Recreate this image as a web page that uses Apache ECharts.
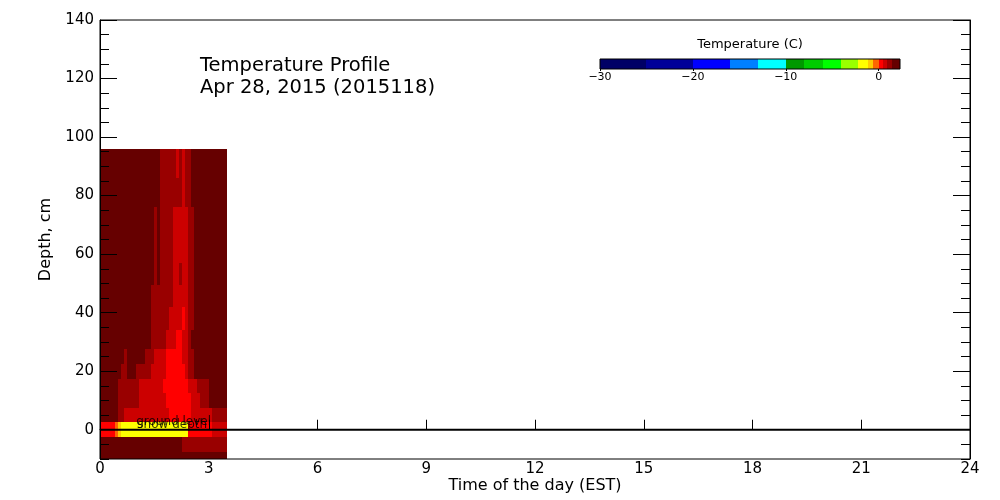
<!DOCTYPE html>
<html><head><meta charset="utf-8">
<script src="https://cdn.jsdelivr.net/npm/echarts@6/dist/echarts.min.js"></script>
<style>html,body{margin:0;padding:0;background:#fff}#chart{width:1000px;height:500px}</style>
</head><body><div id="chart"></div>
<script>
// ---------------- data ----------------
const titleLines = ['Temperature Profile', 'Apr 28, 2015 (2015118)'];
const timeTicks = [0, 3, 6, 9, 12, 15, 18, 21, 24];          // hours EST
const depthTicks = [0, 20, 40, 60, 80, 100, 120, 140];       // cm (labelled, long ticks)
const depthRange = [-10, 140];
const depthMinorStep = 5;
const sampleStepHours = 5 / 60;                               // one column every 5 minutes
// depth band edges (cm), bottom -> top
const depthEdges = [-10, -7.5, -2.5, 2.5, 7.5, 12.5, 17.5, 22.5, 27.5, 34, 42, 49.5, 57, 76, 86, 96];
// temperature levels (deg C) used in the runs below
const tempLevel = { D: 1.8, M: 1.1, C: 0.7, R: 0.2, O: -0.3, A: -0.8, Y: -1.6 };
// per depth band (bottom -> top): runs of [level, number of 5-min samples], 42 samples each
const bandRuns = [
  [['D', 42]],
  [['D', 27], ['M', 15]],
  [['R', 5], ['O', 1], ['A', 1], ['Y', 22], ['R', 8], ['C', 5]],
  [['D', 6], ['M', 2], ['C', 15], ['R', 7], ['C', 7], ['M', 5]],
  [['D', 6], ['M', 7], ['C', 9], ['R', 8], ['C', 3], ['M', 3], ['D', 6]],
  [['D', 6], ['M', 7], ['C', 8], ['R', 8], ['C', 3], ['M', 4], ['D', 6]],
  [['D', 7], ['M', 2], ['D', 3], ['M', 5], ['C', 5], ['R', 6], ['C', 1], ['M', 2], ['D', 11]],
  [['D', 8], ['M', 1], ['D', 6], ['M', 3], ['C', 4], ['R', 5], ['C', 2], ['M', 2], ['D', 11]],
  [['D', 17], ['M', 5], ['C', 3], ['R', 2], ['C', 2], ['M', 1], ['D', 12]],
  [['D', 17], ['M', 6], ['C', 4], ['R', 1], ['C', 1], ['M', 2], ['D', 11]],
  [['D', 17], ['M', 7], ['C', 5], ['M', 2], ['D', 11]],
  [['D', 18], ['M', 1], ['D', 1], ['M', 4], ['C', 2], ['M', 1], ['C', 2], ['M', 2], ['D', 11]],
  [['D', 18], ['M', 1], ['D', 1], ['M', 4], ['C', 5], ['M', 2], ['D', 11]],
  [['D', 20], ['M', 7], ['C', 1], ['M', 2], ['D', 12]],
  [['D', 20], ['M', 5], ['C', 1], ['M', 1], ['C', 1], ['M', 2], ['D', 12]]
];
// colour scale
const cbEdges = [-30, -25, -20, -16, -13, -10, -8, -6, -4, -2.2, -1.1, -0.6, 0, 0.5, 0.9, 1.4, 2.3];
const cbColors = ['#000066', '#000099', '#0000ff', '#0080ff', '#00ffff', '#009900', '#00cc00', '#00ff00',
                  '#99ff00', '#ffff00', '#ffcc00', '#ff6600', '#ff0000', '#cc0000', '#990000', '#660000'];
const cbTickLabels = [-30, -20, -10, 0];
const cbTitle = 'Temperature (C)';
// ground line and annotations
const groundLevel = 0;
const annotationTexts = ['ground level', 'snow depth'];
const annotationTimes = [1.0, 1.03];
const annotationDepths = [0, 0];

// ---------------- build ----------------
const FONT = 'DejaVu Sans';
const FW = 'normal';
const heatData = [];
bandRuns.forEach((runs, b) => {
  let col = 0;
  runs.forEach(([lv, n]) => {
    for (let k = 0; k < n; k++) {
      heatData.push([col * sampleStepHours, (col + 1) * sampleStepHours, depthEdges[b], depthEdges[b + 1], tempLevel[lv]]);
      col++;
    }
  });
});
const cbData = cbColors.map((c, i) => [cbEdges[i], cbEdges[i + 1], 0, 1, (cbEdges[i] + cbEdges[i + 1]) / 2]);
const pieces = cbColors.map((c, i) => ({ gte: cbEdges[i], lt: cbEdges[i + 1], color: c }));

function rectItem(params, api) {
  const p0 = api.coord([api.value(0), api.value(3)]);
  const p1 = api.coord([api.value(1), api.value(2)]);
  const x0 = Math.round(p0[0]), x1 = Math.round(p1[0]);
  const y0 = Math.round(p0[1]), y1 = Math.round(p1[1]);
  return { type: 'rect', shape: { x: x0, y: y0, width: x1 - x0, height: y1 - y0 },
           style: { fill: api.visual('color') } };
}

const blk = { color: '#000', width: 1 };
const minorY = (pos, labels) => ({
  type: 'value', gridIndex: 0, position: pos, min: depthRange[0], max: depthRange[1], interval: depthMinorStep, z: 10,
  axisLine: { show: true, lineStyle: blk },
  axisTick: { show: true, inside: true, length: 9, lineStyle: blk },
  axisLabel: { show: labels, color: '#000', fontFamily: FONT, fontWeight: FW, fontSize: 15, margin: 6,
               formatter: v => depthTicks.includes(v) ? String(v) : '' },
  splitLine: { show: false }
});
const majorY = (pos) => ({
  type: 'value', gridIndex: 0, position: pos, min: depthRange[0], max: depthRange[1], z: 10,
  axisLine: { show: false },
  axisTick: { show: true, inside: true, length: 17, lineStyle: blk, customValues: depthTicks },
  axisLabel: { show: false },
  splitLine: { show: false }
});
const yLeft = minorY('left', true);
yLeft.name = 'Depth, cm';
yLeft.nameLocation = 'middle';
yLeft.nameGap = 46;
yLeft.nameMoveOverlap = false;
yLeft.nameTextStyle = { color: '#000', fontFamily: FONT, fontWeight: FW, fontSize: 16 };

const option = {
  animation: false,
  backgroundColor: '#fff',
  title: [
    { text: titleLines.join('\n'), left: 200, top: 55, padding: 0,
      textStyle: { color: '#000', fontFamily: FONT, fontSize: 19.5, fontWeight: FW, lineHeight: 22 } },
    { text: cbTitle, left: 750, textAlign: 'center', top: 38, padding: 0,
      textStyle: { color: '#000', fontFamily: FONT, fontSize: 13, fontWeight: FW, lineHeight: 13 } }
  ],
  grid: [
    { left: 100, right: 30, top: 20, bottom: 41, show: true, borderColor: '#000', borderWidth: 1,
      backgroundColor: 'transparent', z: 10, outerBoundsMode: 'none', containLabel: false },
    { left: 600, width: 300, top: 59, height: 10, show: true, borderColor: '#000', borderWidth: 1,
      backgroundColor: 'transparent', z: 10, outerBoundsMode: 'none', containLabel: false }
  ],
  xAxis: [
    { type: 'value', gridIndex: 0, min: timeTicks[0], max: timeTicks[timeTicks.length - 1], interval: 3, z: 10,
      axisLine: { show: true, lineStyle: blk },
      axisTick: { show: true, inside: true, length: 10, lineStyle: blk },
      axisLabel: { color: '#000', fontFamily: FONT, fontWeight: FW, fontSize: 15, margin: 3 },
      splitLine: { show: false },
      name: 'Time of the day (EST)', nameLocation: 'middle', nameGap: 19, nameMoveOverlap: false,
      nameTextStyle: { color: '#000', fontFamily: FONT, fontWeight: FW, fontSize: 16, verticalAlign: 'top' } },
    { type: 'value', gridIndex: 1, min: cbEdges[0], max: cbEdges[cbEdges.length - 1], interval: 10, z: 10,
      axisLine: { show: false },
      axisTick: { show: true, inside: false, length: 2, lineStyle: blk },
      axisLabel: { color: '#000', fontFamily: FONT, fontWeight: FW, fontSize: 11, margin: 3, showMaxLabel: false,
                   formatter: v => cbTickLabels.includes(v) ? String(v).replace('-', '\u2212') : '' },
      splitLine: { show: false } }
  ],
  yAxis: [
    yLeft, majorY('left'), minorY('right', false), majorY('right'),
    { type: 'value', gridIndex: 1, min: 0, max: 1, show: false }
  ],
  visualMap: { type: 'piecewise', show: false, dimension: 4, seriesIndex: [0, 3], pieces: pieces },
  series: [
    { type: 'custom', xAxisIndex: 0, yAxisIndex: 0, renderItem: rectItem, data: heatData,
      encode: { x: [0, 1], y: [2, 3] }, silent: true, z: 2 },
    { type: 'line', xAxisIndex: 0, yAxisIndex: 0, symbol: 'none', silent: true, z: 5,
      data: [[timeTicks[0], groundLevel], [timeTicks[timeTicks.length - 1], groundLevel]],
      lineStyle: { color: '#000', width: 2 } },
    { type: 'scatter', xAxisIndex: 0, yAxisIndex: 0, symbolSize: 0, silent: true, z: 6,
      data: annotationTexts.map((t, i) => ({
        value: [annotationTimes[i], annotationDepths[i]],
        label: { show: true, formatter: t, position: [0, 0], align: 'left', verticalAlign: 'bottom',
                 offset: [0, i === 0 ? -2 : 1], color: '#000', fontFamily: FONT, fontWeight: FW,
                 fontSize: 12, lineHeight: 12 }
      })) },
    { type: 'custom', xAxisIndex: 1, yAxisIndex: 4, renderItem: rectItem, data: cbData,
      encode: { x: [0, 1], y: [2, 3] }, silent: true, z: 2 }
  ]
};
const chart = echarts.init(document.getElementById('chart'), null, { renderer: 'canvas' });
chart.setOption(option);
</script></body></html>
